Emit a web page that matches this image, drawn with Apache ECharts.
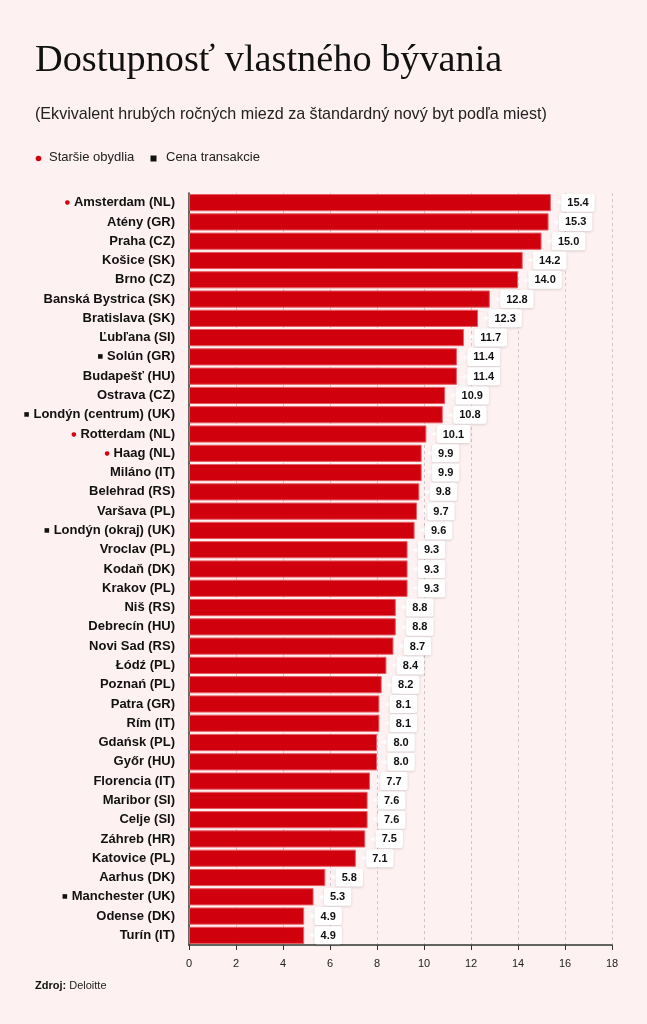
<!DOCTYPE html>
<html>
<head>
<meta charset="utf-8">
<script src="https://cdn.jsdelivr.net/npm/echarts@6/dist/echarts.min.js"></script>
<style>
html,body{margin:0;padding:0;background:#fdf1f1;}
#c{width:647px;height:1024px;}
</style>
</head>
<body>
<div id="c"></div>
<script>
var cities = ["Amsterdam (NL)","Atény (GR)","Praha (CZ)","Košice (SK)","Brno (CZ)","Banská Bystrica (SK)","Bratislava (SK)","Ľubľana (SI)","Solún (GR)","Budapešť (HU)","Ostrava (CZ)","Londýn (centrum) (UK)","Rotterdam (NL)","Haag (NL)","Miláno (IT)","Belehrad (RS)","Varšava (PL)","Londýn (okraj) (UK)","Vroclav (PL)","Kodaň (DK)","Krakov (PL)","Niš (RS)","Debrecín (HU)","Novi Sad (RS)","Łódź (PL)","Poznań (PL)","Patra (GR)","Rím (IT)","Gdańsk (PL)","Győr (HU)","Florencia (IT)","Maribor (SI)","Celje (SI)","Záhreb (HR)","Katovice (PL)","Aarhus (DK)","Manchester (UK)","Odense (DK)","Turín (IT)"];
var values = [15.4,15.3,15.0,14.2,14.0,12.8,12.3,11.7,11.4,11.4,10.9,10.8,10.1,9.9,9.9,9.8,9.7,9.6,9.3,9.3,9.3,8.8,8.8,8.7,8.4,8.2,8.1,8.1,8.0,8.0,7.7,7.6,7.6,7.5,7.1,5.8,5.3,4.9,4.9];
// marker: "o" = staršie obydlia (red dot), "s" = cena transakcie (black square)
var markers = ["o","","","","","","","","s","","","s","o","o","","","","s","","","","","","","","","","","","","","","","","","","s","",""];
var xTicks = [0,2,4,6,8,10,12,14,16,18];

var titleText = "Dostupnosť vlastného bývania";
var subtitleText = "(Ekvivalent hrubých ročných miezd za štandardný nový byt podľa miest)";
var legendItems = ["Staršie obydlia","Cena transakcie"];
var sourceLabel = "Zdroj:";
var sourceText = "Deloitte";

var RED = "#d0000d";
var chart = echarts.init(document.getElementById('c'), null, {renderer:'canvas'});
var sans = "'Liberation Sans', Arial, sans-serif";

chart.setOption({
  backgroundColor: "#fdf1f1",
  animation: false,
  textStyle: {fontFamily: sans},
  title: [
    {text: titleText, left: 30, top: 37,
     textStyle: {fontFamily: "'Liberation Serif','Times New Roman',serif", fontWeight: 'normal', fontSize: 38.3, color: '#111'}},
    {text: subtitleText, left: 30, top: 102,
     textStyle: {fontFamily: sans, fontWeight: 'normal', fontSize: 16.1, color: '#222'}},
    {text: '{b|' + sourceLabel + '} ' + sourceText, left: 30, top: 975,
     textStyle: {fontFamily: sans, fontSize: 11, fontWeight: 'normal', color: '#222',
       rich: {b: {fontWeight: 'bold', fontSize: 11, color: '#111', fontFamily: sans}}}}
  ],
  graphic: [
    {type: 'circle', shape: {cx: 38.5, cy: 158.5, r: 2.8}, style: {fill: RED}},
    {type: 'text', left: 49, top: 151, style: {text: legendItems[0], font: "13px 'Liberation Sans', Arial, sans-serif", fill: '#222'}},
    {type: 'rect', shape: {x: 150.5, y: 155.5, width: 6, height: 6}, style: {fill: '#111'}},
    {type: 'text', left: 166, top: 151, style: {text: legendItems[1], font: "13px 'Liberation Sans', Arial, sans-serif", fill: '#222'}}
  ],
  grid: {left: 189, right: 35, top: 193, bottom: 79, containLabel: false},
  xAxis: {
    type: 'value', min: 0, max: 18, interval: 2,
    axisLine: {show: true, lineStyle: {color: '#333', width: 1.5}},
    axisTick: {show: true, length: 5, lineStyle: {color: '#333'}},
    axisLabel: {color: '#222', fontSize: 11, margin: 13, fontFamily: sans,
      formatter: function(v){ return xTicks.indexOf(v) >= 0 ? String(v) : ''; }},
    splitLine: {show: true, lineStyle: {color: '#cfc6c6', type: [3,3], width: 1}}
  },
  yAxis: {
    type: 'category', data: cities, inverse: true,
    axisLine: {show: true, lineStyle: {color: '#333', width: 1.5}},
    axisTick: {show: false},
    axisLabel: {
      margin: 14, fontSize: 13, fontWeight: 'bold', color: '#111', fontFamily: sans,
      formatter: function(v, i){
        var m = markers[i];
        if (m === 'o') return '{dot|●}' + v;
        if (m === 's') return '{sq|■}' + v;
        return v;
      },
      rich: {
        dot: {color: RED, fontSize: 6, fontFamily: "'DejaVu Sans'", padding: [0,4,0,0]},
        sq: {color: '#111', fontSize: 6, fontFamily: "'DejaVu Sans'", padding: [0,4,0,0]}
      }
    }
  },
  series: [{
    type: 'bar',
    data: values,
    barCategoryGap: '11%',
    itemStyle: {color: RED, borderColor: '#e85a62', borderWidth: 1},
    label: {
      show: true, position: 'right', distance: 5,
      formatter: function(p){ return '{p|◀}{v|' + p.value.toFixed(1) + '}'; },
      rich: {
        p: {color: '#ffffff', fontSize: 7, fontFamily: "'DejaVu Sans'"},
        v: {color: '#111', fontSize: 11, fontWeight: 'bold', fontFamily: sans,
            backgroundColor: '#ffffff', borderRadius: 2, padding: [4,6,3,6],
            shadowColor: 'rgba(0,0,0,0.15)', shadowBlur: 3, shadowOffsetY: 1}
      }
    }
  }]
});
</script>
</body>
</html>
